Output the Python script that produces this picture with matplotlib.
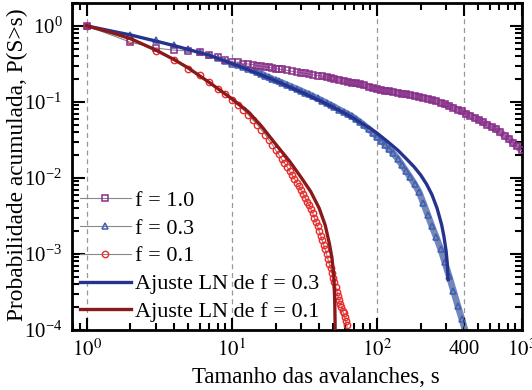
import numpy as np
import matplotlib
matplotlib.use("Agg")
import matplotlib.pyplot as plt
from matplotlib.ticker import FixedLocator, LogLocator, NullFormatter

plt.rcParams["font.family"] = ["Liberation Serif", "DejaVu Serif"]
plt.rcParams["mathtext.fontset"] = "stix"

# --------- DADOS -----------------------------
# f = 1.0
s_f10 = [1, 2, 3, 4, 5, 6, 7, 8, 9, 10, 11, 12, 13, 14, 15, 16, 17, 18, 19, 20,
         21, 22, 24, 26, 28, 30, 32, 34, 36, 39, 42, 45, 48, 51, 55, 59, 63, 67,
         72, 77, 82, 88, 94, 100, 107, 114, 122, 130, 139, 149, 159, 170, 182,
         195, 209, 224, 240, 257, 275, 294, 315, 337, 361, 386, 413, 442, 473,
         506, 541, 579, 620, 663, 709, 759, 812, 869, 930, 995]
p_f10 = [1.0, 0.61, 0.51, 0.48, 0.47, 0.45, 0.42, 0.39, 0.36, 0.34, 0.33, 0.32,
         0.315, 0.31, 0.30, 0.295, 0.29, 0.285, 0.28, 0.275, 0.271, 0.268, 0.26,
         0.253, 0.247, 0.242, 0.238, 0.233, 0.228, 0.222, 0.217, 0.212, 0.207,
         0.202, 0.196, 0.19, 0.185, 0.18, 0.175, 0.17, 0.165, 0.158, 0.152,
         0.147, 0.144, 0.141, 0.138, 0.135, 0.132, 0.129, 0.126, 0.123, 0.12,
         0.117, 0.114, 0.11, 0.106, 0.102, 0.097, 0.093, 0.088, 0.084, 0.079,
         0.075, 0.070, 0.066, 0.062, 0.058, 0.054, 0.050, 0.047, 0.044, 0.040,
         0.036, 0.033, 0.029, 0.026, 0.023]

# f = 0.3
s_f03 = [1, 2, 3, 4, 5, 6, 7, 8, 9, 10, 11, 12, 13, 14, 15, 16, 17, 18, 19, 20,
         21, 22, 24, 26, 28, 30, 32, 34, 36, 39, 42, 45, 48, 51, 55, 59, 63, 67,
         72, 77, 82, 88, 94, 100, 107, 114, 122, 130, 139, 149, 159, 170, 182,
         195, 209, 224, 240, 257, 275, 294, 315, 337, 361, 386, 413]
p_f03 = [1.0, 0.76, 0.65, 0.56, 0.50, 0.45, 0.41, 0.38, 0.35, 0.32, 0.305, 0.29,
         0.27, 0.26, 0.245, 0.235, 0.22, 0.21, 0.20, 0.193, 0.186, 0.18, 0.168,
         0.157, 0.148, 0.14, 0.132, 0.126, 0.119, 0.111, 0.104, 0.097, 0.091,
         0.086, 0.079, 0.074, 0.069, 0.065, 0.059, 0.054, 0.049, 0.044, 0.039,
         0.035, 0.031, 0.0275, 0.024, 0.021, 0.018, 0.0148, 0.0123, 0.0102,
         0.0083, 0.0066, 0.0047, 0.0033, 0.0023, 0.00166, 0.00117, 0.00078,
         0.00051, 0.00033, 0.00021, 0.000138, 0.000089]

# f = 0.1
s_f01 = list(range(1, 64))
p_f01 = [1.0, 0.66, 0.468, 0.355, 0.275, 0.224, 0.182, 0.148, 0.126, 0.107,
         0.0912, 0.0794, 0.0676, 0.0575, 0.0501, 0.0427, 0.0372, 0.0316, 0.0275,
         0.0234, 0.0204, 0.0178, 0.0158, 0.0141, 0.0123, 0.011, 0.0098, 0.0087,
         0.0078, 0.0069, 0.0062, 0.0055, 0.0049, 0.0044, 0.0039, 0.0035, 0.0030,
         0.0026, 0.0023, 0.0020, 0.00174, 0.00151, 0.00132, 0.00115, 0.0010,
         0.00085, 0.00074, 0.00065, 0.00056, 0.00049, 0.00043, 0.00037, 0.00032,
         0.00028, 0.000245, 0.00022, 0.0002, 0.00018, 0.000166, 0.000148,
         0.000132, 0.000115, 0.000095]

# ajustes log-normais
s_ln03 = [1, 1.5, 2, 3, 4, 5, 7, 10, 14, 20, 30, 40, 50, 60, 70, 80, 90, 100,
          120, 140, 160, 180, 200, 220, 240, 260, 280, 290, 300, 305, 310]
p_ln03 = [1.0, 0.85, 0.76, 0.63, 0.55, 0.49, 0.41, 0.32, 0.25, 0.19, 0.135,
          0.105, 0.085, 0.071, 0.060, 0.051, 0.045, 0.039, 0.0295, 0.023, 0.0178,
          0.0141, 0.011, 0.0083, 0.006, 0.004, 0.0024, 0.0017, 0.0011, 0.00079,
          0.00046]

s_ln01 = [1, 1.5, 2, 3, 4, 5, 7, 10, 13, 16, 20, 25, 30, 35, 40, 44, 47, 49,
          50.5, 51.2, 51.5, 51.6]
p_ln01 = [1.0, 0.81, 0.68, 0.48, 0.36, 0.28, 0.18, 0.11, 0.074, 0.048, 0.028,
          0.0166, 0.0102, 0.0066, 0.004, 0.0024, 0.00138, 0.00089, 0.0005,
          0.00025, 0.000126, 0.000063]

vlines_x = [1, 10, 100, 400]
xticks = [1, 10, 100, 400, 1000]
xticklabels = [r"$10^0$", r"$10^1$", r"$10^2$", "400", r"$10^3$"]

# --------- CORES ----------
c_f10 = "#8A2E8C"
c_f03 = "#3F5FB0"
c_f01 = "#EE2A2A"
c_ln03 = "#25338F"
c_ln01 = "#8A1A1A"

fig = plt.figure(figsize=(5.32, 3.90), dpi=100)
ax = fig.add_axes([0.1353, 0.1538, 0.8457, 0.8385])

for xv in vlines_x:
    ax.axvline(xv, color="#999999", lw=0.9, ls=(0, (4, 3)), zorder=0)

# faixa densa (pontos muito proximos) na parte de s grande
i10 = s_f10.index(42)
i03 = s_f03.index(14)
ax.plot(s_f10[i10:], p_f10[i10:], color=c_f10, lw=4.8, alpha=0.75,
        solid_capstyle="butt", zorder=1)
ax.plot(s_f03[i03:], p_f03[i03:], color=c_f03, lw=4.8, alpha=0.75,
        solid_capstyle="butt", zorder=1)

ax.plot(s_f10, p_f10, color="#888888", lw=0.8, marker="s", ms=4.6,
        mfc="none", mec=c_f10, mew=1.1, label="f = 1.0", zorder=3)
ax.plot(s_f03, p_f03, color="#888888", lw=0.8, marker="^", ms=4.6,
        mfc="none", mec=c_f03, mew=1.1, label="f = 0.3", zorder=2)
ax.plot(s_f01, p_f01, color="#888888", lw=0.8, marker="o", ms=4.6,
        mfc="none", mec=c_f01, mew=1.0, label="f = 0.1", zorder=2)
ax.plot(s_ln03, p_ln03, color=c_ln03, lw=2.4, label="Ajuste LN de f = 0.3", zorder=4)
ax.plot(s_ln01, p_ln01, color=c_ln01, lw=2.4, label="Ajuste LN de f = 0.1", zorder=4)

ax.set_xscale("log")
ax.set_yscale("log")
ax.set_xlim(0.79, 1000)
ax.set_ylim(1e-4, 2.0)

ax.xaxis.set_major_locator(FixedLocator(xticks))
ax.set_xticklabels(xticklabels)
ax.xaxis.set_minor_locator(LogLocator(base=10, subs=np.arange(2, 10)))
ax.xaxis.set_minor_formatter(NullFormatter())
ax.yaxis.set_major_locator(LogLocator(base=10, numticks=10))
ax.yaxis.set_minor_locator(LogLocator(base=10, subs=np.arange(2, 10), numticks=10))
ax.yaxis.set_minor_formatter(NullFormatter())

ax.tick_params(which="both", direction="in", top=True, right=True, labelsize=15,
               width=1.5)
ax.tick_params(which="major", length=9, pad=7)
ax.tick_params(which="minor", length=5)
for sp in ax.spines.values():
    sp.set_linewidth(2)

ax.set_xlabel("Tamanho das avalanches, s", fontsize=16.5)
ax.xaxis.set_label_coords(0.543, -0.112)
ax.set_ylabel("Probabilidade acumulada, P(S>s)", fontsize=16.8)
ax.yaxis.set_label_coords(-0.098, 0.505)

ax.legend(loc="lower left", bbox_to_anchor=(0.0, 0.0), frameon=False,
          fontsize=16, handlelength=2.3, handletextpad=0.2, labelspacing=0.33,
          borderaxespad=0.15, borderpad=0.2)

plt.savefig("out.png", dpi=100)
